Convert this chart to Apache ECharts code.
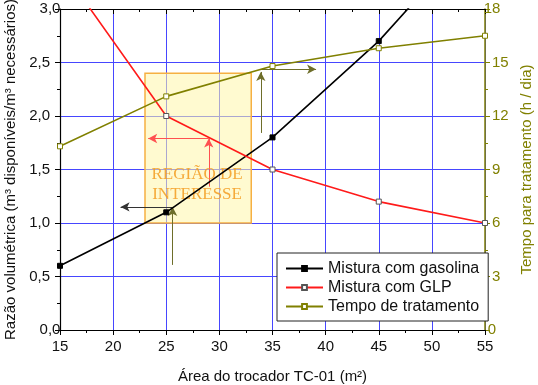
<!DOCTYPE html>
<html>
<head>
<meta charset="utf-8">
<script src="https://cdn.jsdelivr.net/npm/echarts@6/dist/echarts.min.js"></script>
<style>
html,body{margin:0;padding:0;background:#fff;}
#c{width:538px;height:385px;}
</style>
</head>
<body>
<div id="c"></div>
<script>
// Data
const areas = [15, 25, 35, 45, 55];
const gasolina = [0.6, 1.1, 1.8, 2.7, 3.8];
const glp = [3.4, 2.0, 1.5, 1.2, 1.0];
const tempo = [10.3, 13.1, 14.8, 15.8, 16.5];
const seriesNames = ['Mistura com gasolina', 'Mistura com GLP', 'Tempo de tratamento'];
const xTicks = [15, 20, 25, 30, 35, 40, 45, 50, 55];
const leftTicks = [0, 0.5, 1.0, 1.5, 2.0, 2.5, 3.0];
const rightTicks = [0, 3, 6, 9, 12, 15, 18];
const regionBox = [[23, 1.0], [33, 2.4]];
const regionLabel = 'REGIÃO DE\nINTERESSE';

const pairs = (xs, ys) => xs.map((x, i) => [x, ys[i]]);
const FONT = 'Liberation Sans, Arial, sans-serif';
const OLIVE = '#808000';

const chart = echarts.init(document.getElementById('c'), null, {renderer: 'canvas'});

const arrowCommon = {
  silent: true,
  symbol: ['none', 'arrow'],
  symbolSize: [7, 9],
  label: {show: false},
  emphasis: {disabled: true}
};

chart.setOption({
  animation: false,
  backgroundColor: '#fff',
  grid: {left: 60, right: 53, top: 9, bottom: 55, containLabel: false, outerBoundsMode: 'none'},
  legend: {
    left: 277, top: 253,
    orient: 'vertical',
    data: seriesNames,
    backgroundColor: '#fff',
    borderColor: '#222',
    borderWidth: 1,
    borderRadius: 0,
    padding: [6, 9, 5, 8],
    itemGap: 0,
    itemWidth: 37,
    itemHeight: 6,
    textStyle: {fontFamily: FONT, fontSize: 16, color: '#111', lineHeight: 19},
    selectedMode: false
  },
  xAxis: [{
    type: 'value', min: 15, max: 55, interval: 5,
    position: 'bottom',
    name: 'Área do trocador TC-01 (m²)',
    nameLocation: 'middle', nameGap: 39,
    nameTextStyle: {fontFamily: FONT, fontSize: 15, color: '#111'},
    axisLine: {show: true, onZero: false, lineStyle: {color: '#000', width: 1.2}},
    axisTick: {show: true, inside: false, length: 5, lineStyle: {color: '#000'}},
    minorTick: {show: true, splitNumber: 2, length: 3, lineStyle: {color: '#000'}},
    axisLabel: {fontFamily: FONT, fontSize: 15, color: '#111', margin: 9,
      alignMinLabel: 'center', alignMaxLabel: 'center',
      formatter: v => (xTicks.indexOf(v) >= 0 ? String(v) : '')},
    splitLine: {show: true, lineStyle: {color: '#4646ff', width: 1}}
  }, {
    type: 'value', min: 15, max: 55, interval: 5,
    position: 'top',
    axisLine: {show: true, onZero: false, lineStyle: {color: '#000', width: 1.2}},
    axisTick: {show: true, inside: true, length: 5, lineStyle: {color: '#000'}},
    minorTick: {show: true, splitNumber: 2, length: 3, lineStyle: {color: '#000'}},
    axisLabel: {show: false},
    splitLine: {show: false}
  }],
  yAxis: [{
    type: 'value', min: 0, max: 3, interval: 0.5,
    position: 'left',
    name: 'Razão volumétrica (m³ disponíveis/m³ necessários)',
    nameLocation: 'middle', nameGap: 41,
    nameTextStyle: {fontFamily: FONT, fontSize: 15, color: '#111'},
    axisLine: {show: true, onZero: false, lineStyle: {color: '#000', width: 1.2}},
    axisTick: {show: true, inside: false, length: 5, lineStyle: {color: '#000'}},
    minorTick: {show: true, splitNumber: 2, length: 3, lineStyle: {color: '#000'}},
    axisLabel: {fontFamily: FONT, fontSize: 15, color: '#111', margin: 10,
      alignMinLabel: 'center', alignMaxLabel: 'center',
      formatter: v => v.toFixed(1).replace('.', ',')},
    splitLine: {show: true, lineStyle: {color: '#4646ff', width: 1}}
  }, {
    type: 'value', min: 0, max: 18, interval: 3,
    position: 'right',
    name: 'Tempo para tratamento (h / dia)',
    nameLocation: 'middle', nameGap: 30, nameRotate: 90,
    nameTextStyle: {fontFamily: FONT, fontSize: 15, color: OLIVE},
    axisLine: {show: true, onZero: false, lineStyle: {color: OLIVE, width: 1.5}},
    axisTick: {show: true, inside: false, length: 5, lineStyle: {color: OLIVE}},
    minorTick: {show: true, splitNumber: 2, length: 3, lineStyle: {color: OLIVE}},
    axisLabel: {fontFamily: FONT, fontSize: 15, color: OLIVE, margin: 7,
      alignMinLabel: 'center', alignMaxLabel: 'center'},
    splitLine: {show: false}
  }],
  series: [{
    name: seriesNames[0],
    type: 'line',
    data: pairs(areas, gasolina),
    xAxisIndex: 0, yAxisIndex: 0,
    symbol: 'rect', symbolSize: 5,
    showAllSymbol: true,
    clip: true,
    z: 5,
    lineStyle: {color: '#000', width: 1.6},
    itemStyle: {color: '#000', borderColor: '#000', borderWidth: 1},
    markArea: {
      silent: true,
      z: 1,
      itemStyle: {color: 'rgba(255,246,170,0.55)', borderColor: '#f6b042', borderWidth: 1.5},
      label: {show: false},
      data: [[{coord: regionBox[0]}, {coord: regionBox[1]}]]
    },
    markLine: Object.assign({}, arrowCommon, {
      lineStyle: {color: '#333', width: 1, type: 'solid'},
      data: [[{coord: [25.6, 1.15]}, {coord: [20.7, 1.15]}]]
    })
  }, {
    name: seriesNames[1],
    type: 'line',
    data: pairs(areas, glp),
    xAxisIndex: 0, yAxisIndex: 0,
    symbol: 'rect', symbolSize: 5,
    showAllSymbol: true,
    clip: true,
    z: 5,
    lineStyle: {color: '#ff1a1a', width: 1.6},
    itemStyle: {color: '#fff', borderColor: '#555', borderWidth: 1},
    markLine: Object.assign({}, arrowCommon, {
      lineStyle: {color: '#ff5050', width: 1, type: 'solid'},
      data: [
        [{coord: [29.0, 1.34]}, {coord: [29.0, 1.79]}],
        [{coord: [29.0, 1.79]}, {coord: [23.3, 1.79]}]
      ]
    }),
    markPoint: {
      silent: true,
      symbol: 'circle', symbolSize: 0,
      label: {
        show: true, position: 'inside',
        formatter: regionLabel,
        fontFamily: 'Liberation Serif, Times New Roman, serif',
        fontSize: 17, lineHeight: 20,
        color: 'rgba(243,155,30,0.85)',
        align: 'center'
      },
      data: [{coord: [27.9, 1.36]}]
    }
  }, {
    name: seriesNames[2],
    type: 'line',
    data: pairs(areas, tempo),
    xAxisIndex: 0, yAxisIndex: 1,
    symbol: 'rect', symbolSize: 5,
    showAllSymbol: true,
    clip: true,
    z: 5,
    lineStyle: {color: OLIVE, width: 1.6},
    itemStyle: {color: '#fff', borderColor: OLIVE, borderWidth: 1},
    markLine: Object.assign({}, arrowCommon, {
      lineStyle: {color: '#6e6e2a', width: 1, type: 'solid'},
      data: [
        [{coord: [25.6, 3.65]}, {coord: [25.6, 6.9]}],
        [{coord: [33.9, 11.05]}, {coord: [33.9, 14.47]}],
        [{coord: [33.9, 14.62]}, {coord: [39.1, 14.62]}]
      ]
    })
  }]
});
</script>
</body>
</html>
